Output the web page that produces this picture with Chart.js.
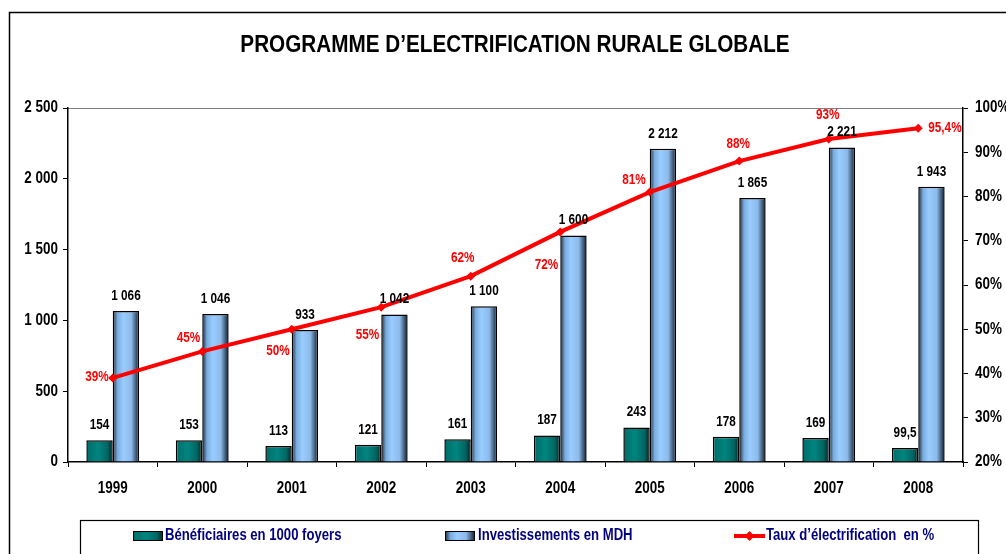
<!DOCTYPE html>
<html><head><meta charset="utf-8">
<script src="https://cdn.jsdelivr.net/npm/chart.js@4/dist/chart.umd.min.js"></script>
<style>html,body{margin:0;padding:0;background:#fff}#wrap{width:1006px;height:554px;position:relative}</style>
</head><body><div id="wrap"><canvas id="c" width="1006" height="554"></canvas></div>
<script>
const categories = ['1999','2000','2001','2002','2003','2004','2005','2006','2007','2008'];
const beneficiaires = [154,153,113,121,161,187,243,178,169,99.5];
const investissements = [1066,1046,933,1042,1100,1600,2212,1865,2221,1943];
const taux = [39,45,50,55,62,72,81,88,93,95.4];
const leftTicks = [0,500,1000,1500,2000,2500];
const rightTicks = [20,30,40,50,60,70,80,90,100];
const seriesNames = ['Bénéficiaires en 1000 foyers','Investissements en MDH','Taux d’électrification  en %'];
const titleText = 'PROGRAMME D’ELECTRIFICATION RURALE GLOBALE';

const FONT = '"Liberation Sans",Arial,sans-serif';
const SX = 0.84; // horizontal condensing of text
const CAT_PCT = 0.59;
const tealStops = [[0,'#006c68'],[0.45,'#008580'],[0.8,'#006562'],[1,'#002625']];
const blueStops = [[0,'#1a2634'],[0.18,'#79acde'],[0.4,'#99ccff'],[0.7,'#8cbbea'],[0.88,'#3f5b7a'],[1,'#121a24']];

function fmtNum(v){
  const s = String(v).replace('.',',');
  const parts = s.split(',');
  parts[0] = parts[0].replace(/\B(?=(\d{3})+(?!\d))/g,' ');
  return parts.join(',');
}
function drawText(c, text, x, y, align, size, color, sx){
  c.save();
  c.font = 'bold ' + size + 'px ' + FONT;
  c.fillStyle = color; c.textAlign = align; c.textBaseline = 'middle';
  c.translate(x, y); c.scale(sx || SX, 1);
  c.fillText(text, 0, 0);
  c.restore();
}
function barGrad(ctx, dsIndex, stops){
  const chart = ctx.chart, x = chart.scales && chart.scales.x;
  if (ctx.type !== 'data' || !x || !chart.chartArea) return stops[2][1];
  const c = x.getPixelForValue(ctx.dataIndex);
  const cw = x.width / categories.length;
  const bw = cw * CAT_PCT / 2;
  const left = dsIndex === 0 ? c - bw : c;
  const g = chart.ctx.createLinearGradient(left,0,left+bw,0);
  stops.forEach(s => g.addColorStop(s[0], s[1]));
  return g;
}

Chart.defaults.font.family = FONT;
Chart.defaults.font.weight = 'bold';
Chart.defaults.font.size = 16;

// label placement for percentage labels: [dx, dy, align]
const pctPlace = [[-4,-1,'right'],[-2,-13,'right'],[-2,22,'right'],[-2,28,'right'],[-8,-18,'center'],[-2,33,'right'],[-4,-12,'right'],[-1,-17,'center'],[-1,-24,'center'],[10,0,'left']];

const decor = {
  id:'decor',
  beforeDraw(chart){
    const c = chart.ctx, a = chart.chartArea;
    c.save();
    c.fillStyle = '#fff'; c.fillRect(0,0,chart.width,chart.height);
    c.strokeStyle = '#000'; c.lineWidth = 1.5;
    c.beginPath(); c.moveTo(9.5, chart.height+2); c.lineTo(9.5, 12.5); c.lineTo(chart.width+2, 12.5); c.stroke();
    c.strokeStyle = '#808080'; c.lineWidth = 1.2;
    c.beginPath(); c.moveTo(a.left, a.top+0.5); c.lineTo(a.right, a.top+0.5); c.stroke();
    c.restore();
    drawText(c, titleText, 515, 46, 'center', 23, '#000', 0.9);
  },
  afterDraw(chart){
    const c = chart.ctx;
    const sx = chart.scales.x, sy = chart.scales.y, sy1 = chart.scales.y1;
    categories.forEach((t,i) => drawText(c, t, sx.getPixelForValue(i), 489, 'center', 16, '#000'));
    leftTicks.forEach(v => drawText(c, fmtNum(v), 58, sy.getPixelForValue(v), 'right', 16, '#000'));
    rightTicks.forEach(v => drawText(c, v + '%', 975, sy1.getPixelForValue(v), 'left', 16, '#000'));
    [0,1].forEach(di => {
      const meta = chart.getDatasetMeta(di);
      meta.data.forEach((el,i) => {
        drawText(c, fmtNum(chart.data.datasets[di].data[i]), el.x, el.y - 15, 'center', 14, '#000');
      });
    });
    const lm = chart.getDatasetMeta(2);
    lm.data.forEach((el,i) => {
      const p = pctPlace[i];
      drawText(c, fmtNum(taux[i]) + '%', el.x + p[0], el.y + p[1], p[2], 14, '#ff0000');
    });
    // legend
    c.save();
    const ly = 536;
    c.strokeStyle = '#000'; c.lineWidth = 1.2;
    c.strokeRect(80.5, 520.5, 898, 40);
    const sw = (x, stops) => {
      const g = c.createLinearGradient(x,0,x+30,0);
      stops.forEach(s => g.addColorStop(s[0], s[1]));
      c.fillStyle = g; c.fillRect(x, ly-5, 30, 10);
      c.strokeStyle = '#000'; c.lineWidth = 1; c.strokeRect(x+0.5, ly-4.5, 29, 9);
    };
    sw(133, tealStops); sw(445, blueStops);
    c.strokeStyle = '#ff0000'; c.lineWidth = 4;
    c.beginPath(); c.moveTo(734, ly); c.lineTo(765, ly); c.stroke();
    c.fillStyle = '#ff0000';
    c.beginPath(); c.moveTo(749.5, ly-5); c.lineTo(754.5, ly); c.lineTo(749.5, ly+5); c.lineTo(744.5, ly); c.closePath(); c.fill();
    c.restore();
    drawText(c, seriesNames[0], 165, ly, 'left', 16, '#000080', 0.82);
    drawText(c, seriesNames[1], 478, ly, 'left', 16, '#000080', 0.82);
    drawText(c, seriesNames[2], 766, ly, 'left', 16, '#000080', 0.82);
  }
};

new Chart(document.getElementById('c'), {
  data: {
    labels: categories,
    datasets: [
      { type:'bar', label: seriesNames[0], data: beneficiaires, yAxisID:'y', order:2,
        backgroundColor: ctx => barGrad(ctx, 0, tealStops), borderColor:'#000', borderWidth:1.5,
        categoryPercentage: CAT_PCT, barPercentage: 1 },
      { type:'bar', label: seriesNames[1], data: investissements, yAxisID:'y', order:2,
        backgroundColor: ctx => barGrad(ctx, 1, blueStops), borderColor:'#000', borderWidth:1.5,
        categoryPercentage: CAT_PCT, barPercentage: 1 },
      { type:'line', label: seriesNames[2], data: taux, yAxisID:'y1', order:1,
        borderColor:'#ff0000', borderWidth:4, backgroundColor:'#ff0000', pointStyle:'rectRot',
        pointRadius:4.5, pointBorderWidth:0, pointBackgroundColor:'#ff0000', tension:0 }
    ]
  },
  options: {
    responsive:false, animation:false,
    layout:{ padding:{ top:108, left:0, right:0, bottom:0 } },
    plugins:{ legend:{display:false}, tooltip:{enabled:false}, title:{display:false} },
    scales:{
      x:{ offset:true,
        grid:{ display:true, drawOnChartArea:false, tickLength:5, offset:true, color:'#000', lineWidth:1 },
        border:{ color:'#000', width:1.5 },
        ticks:{ padding:12, color:'rgba(0,0,0,0)' },
        afterFit(s){ s.height = 92; } },
      y:{ position:'left', min:0, max:2500,
        afterBuildTicks(s){ s.ticks = leftTicks.map(v => ({value:v})); },
        grid:{ drawOnChartArea:false, tickLength:5, color:'#000' },
        border:{ color:'#000', width:1.5 },
        ticks:{ padding:5, color:'rgba(0,0,0,0)', callback: v => fmtNum(v) },
        afterFit(s){ s.width = 68; } },
      y1:{ position:'right', min:20, max:100,
        afterBuildTicks(s){ s.ticks = rightTicks.map(v => ({value:v})); },
        grid:{ drawOnChartArea:false, tickLength:5, color:'#000' },
        border:{ color:'#000', width:1.5 },
        ticks:{ padding:7, color:'rgba(0,0,0,0)', callback: v => v + '%' },
        afterFit(s){ s.width = 43; } }
    }
  },
  plugins:[decor]
});
</script></body></html>
